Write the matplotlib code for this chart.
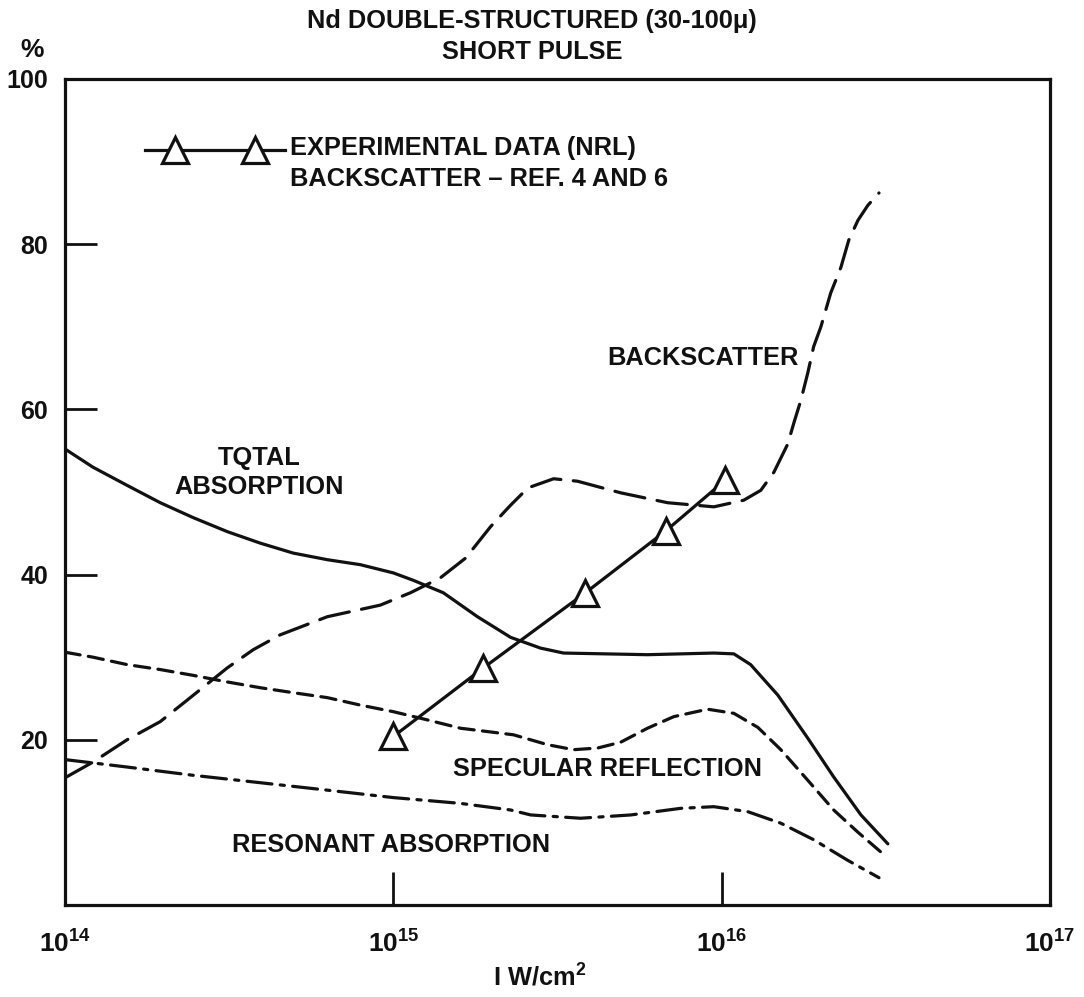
import matplotlib
matplotlib.use("Agg")
import matplotlib.pyplot as plt
from matplotlib.ticker import NullLocator, FixedLocator, FixedFormatter

plt.rcParams['font.family'] = ['Liberation Sans Narrow', 'Liberation Sans', 'DejaVu Sans']
plt.rcParams['font.weight'] = 'bold'
plt.rcParams['mathtext.default'] = 'regular'
plt.rcParams['lines.scale_dashes'] = False

INK = '#111111'

# ---- data (log10 of intensity in W/cm^2, percent) ----
total_logI = [14.000, 14.085, 14.189, 14.290, 14.390, 14.494, 14.595, 14.695, 14.799, 14.899,
              15.000, 15.061, 15.152, 15.256, 15.357, 15.448, 15.518, 15.774, 15.976, 16.037,
              16.088, 16.171, 16.262, 16.341, 16.424, 16.506]
total_pct = [55.2, 53.0, 50.8, 48.7, 46.9, 45.2, 43.8, 42.6, 41.8, 41.2,
             40.2, 39.3, 37.8, 34.9, 32.4, 31.1, 30.5, 30.3, 30.5, 30.4,
             29.1, 25.4, 20.2, 15.5, 10.9, 7.4]

back_logI = [14.000, 14.085, 14.189, 14.290, 14.372, 14.494, 14.573, 14.655, 14.799, 14.960,
             15.052, 15.143, 15.220, 15.296, 15.357, 15.410, 15.488, 15.561, 15.692, 15.835,
             15.976, 16.067, 16.119, 16.159, 16.201, 16.220, 16.241, 16.262, 16.280, 16.302,
             16.332, 16.363, 16.387, 16.415, 16.445, 16.479]
back_pct = [15.4, 17.3, 20.0, 22.2, 24.8, 28.7, 30.9, 32.7, 34.9, 36.3,
            37.8, 39.6, 42.0, 45.8, 48.4, 50.5, 51.6, 51.3, 49.9, 48.7,
            48.2, 49.0, 50.2, 52.4, 55.8, 58.4, 61.1, 64.4, 67.6, 70.0,
            74.1, 77.2, 80.5, 82.9, 84.7, 86.2]

spec_logI = [14.000, 14.085, 14.189, 14.290, 14.390, 14.494, 14.595, 14.695, 14.799, 14.899,
             15.000, 15.104, 15.204, 15.265, 15.366, 15.470, 15.549, 15.622, 15.692, 15.774,
             15.854, 15.957, 16.037, 16.110, 16.180, 16.262, 16.341, 16.415, 16.485]
spec_pct = [30.6, 30.0, 29.1, 28.5, 27.8, 27.0, 26.3, 25.7, 25.1, 24.2,
            23.4, 22.4, 21.4, 21.1, 20.6, 19.4, 18.8, 19.0, 19.7, 21.4,
            22.8, 23.7, 23.2, 21.5, 18.8, 15.1, 11.5, 8.8, 6.4]

res_logI = [14.000, 14.189, 14.390, 14.595, 14.799, 15.000, 15.204, 15.357, 15.418, 15.570,
            15.723, 15.875, 15.976, 16.079, 16.180, 16.280, 16.384, 16.479]
res_pct = [17.6, 16.7, 15.7, 14.8, 13.9, 13.0, 12.3, 11.5, 10.9, 10.5,
           10.9, 11.7, 11.9, 11.3, 9.9, 7.9, 5.4, 3.3]

exp_logI = [15.0, 15.274, 15.585, 15.83, 16.01]
exp_pct = [20.4, 28.7, 37.8, 45.3, 51.4]

xtick_vals = [1e14, 1e15, 1e16, 1e17]
xtick_labels = [r'$10^{14}$', r'$10^{15}$', r'$10^{16}$', r'$10^{17}$']
ytick_vals = [20, 40, 60, 80, 100]
ytick_labels = ['20', '40', '60', '80', '100']


def tolin(v):
    return [10 ** a for a in v]


FS = 18.3
fig = plt.figure(figsize=(10.84, 9.97), dpi=100)
fig.patch.set_facecolor('white')
ax = fig.add_axes([0.060, 0.0923, 0.9087, 0.8285])
ax.set_xscale('log')
ax.set_xlim(1e14, 1e17)
ax.set_ylim(0, 100)

lw = 2.3
ax.plot(tolin(total_logI), total_pct, color=INK, lw=lw, solid_capstyle='round',
        solid_joinstyle='round')
ax.plot(tolin(back_logI), back_pct, color=INK, lw=lw, dashes=(22, 9), dash_capstyle='round',
        dash_joinstyle='round')
ax.plot(tolin(spec_logI), spec_pct, color=INK, lw=lw, dashes=(11, 6), dash_capstyle='round',
        dash_joinstyle='round')
ax.plot(tolin(res_logI), res_pct, color=INK, lw=lw, dashes=(18, 6, 3, 6), dash_capstyle='round',
        dash_joinstyle='round')
ax.plot(tolin(exp_logI), exp_pct, color=INK, lw=lw, marker='^', markersize=19,
        markerfacecolor='white', markeredgecolor=INK, markeredgewidth=2.3)

for s in ax.spines.values():
    s.set_linewidth(2.3)
    s.set_color(INK)

ax.xaxis.set_major_locator(FixedLocator(xtick_vals))
ax.xaxis.set_major_formatter(FixedFormatter(xtick_labels))
ax.xaxis.set_minor_locator(NullLocator())
ax.yaxis.set_major_locator(FixedLocator(ytick_vals))
ax.yaxis.set_major_formatter(FixedFormatter(ytick_labels))
ax.tick_params(axis='x', direction='in', length=24, width=2.0, color=INK, pad=18,
               labelsize=19, labelcolor=INK)
ax.tick_params(axis='y', direction='in', length=23, width=2.0, color=INK, pad=12,
               labelsize=18, labelcolor=INK)
for t in ax.get_xticklabels() + ax.get_yticklabels():
    t.set_fontweight('bold')

# legend (manual)
ax.plot([0.081, 0.223], [0.914, 0.914], transform=ax.transAxes, color=INK, lw=lw)
ax.plot([0.112, 0.193], [0.914, 0.914], transform=ax.transAxes, ls='none', marker='^',
        markersize=19, markerfacecolor='white', markeredgecolor=INK, markeredgewidth=2.3)
ax.text(0.228, 0.916, 'EXPERIMENTAL DATA (NRL)', transform=ax.transAxes,
        ha='left', va='center', fontsize=FS, color=INK)
ax.text(0.228, 0.879, 'BACKSCATTER \u2013 REF. 4 AND 6', transform=ax.transAxes,
        ha='left', va='center', fontsize=FS, color=INK)

# curve labels
lab = dict(transform=ax.transAxes, ha='center', va='center', fontsize=FS, color=INK)
ax.text(0.197, 0.541, 'TQTAL', **lab)
ax.text(0.197, 0.506, 'ABSORPTION', **lab)
ax.text(0.648, 0.662, 'BACKSCATTER', **lab)
ax.text(0.551, 0.165, 'SPECULAR REFLECTION', **lab)
ax.text(0.331, 0.073, 'RESONANT ABSORPTION', **lab)

fig.text(0.491, 0.979, 'Nd DOUBLE-STRUCTURED (30-100\u03bc)', ha='center', va='center',
         fontsize=FS, color=INK)
fig.text(0.491, 0.948, 'SHORT PULSE', ha='center', va='center', fontsize=FS, color=INK)
fig.text(0.030, 0.950, '%', ha='center', va='center', fontsize=19, color=INK)
fig.text(0.498, 0.020, r'I W/cm$^2$', ha='center', va='center', fontsize=FS, color=INK)

fig.savefig('out.png', dpi=100, facecolor='white')
